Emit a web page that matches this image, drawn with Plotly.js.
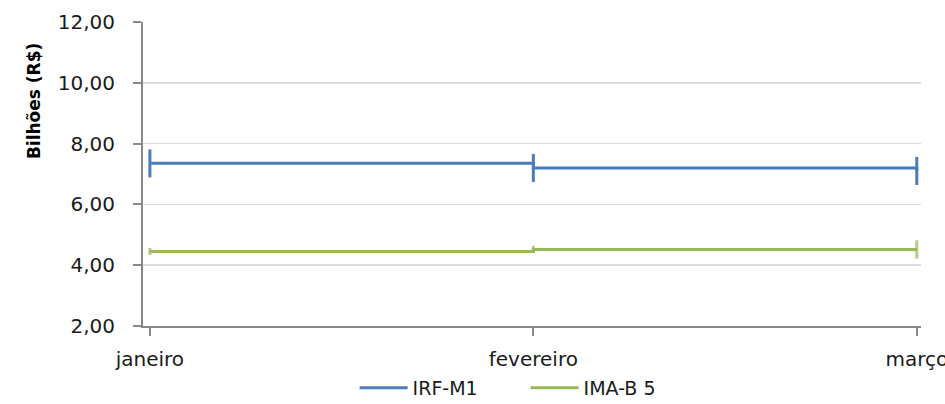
<!DOCTYPE html>
<html>
<head>
<meta charset="utf-8">
<script src="https://cdn.plot.ly/plotly-3.0.1.min.js"></script>
<style>html,body{margin:0;padding:0;background:#fff;}#chart{width:945px;height:404px;}</style>
</head>
<body>
<div id="chart"></div>
<script>
const months = ['janeiro', 'fevereiro', 'março'];
const irfM1 = [7.35, 7.20, 7.10];
const imaB5 = [4.45, 4.52, 4.52];
const yTicks = [2, 4, 6, 8, 10, 12];

const blue = '#4a7ebb';
const green = '#98b954';
const font = 'DejaVu Sans, Verdana, sans-serif';

const traces = [
  {x: months, y: irfM1, name: 'IRF-M1', type: 'scatter', mode: 'lines',
   line: {color: blue, width: 3, shape: 'hv'}},
  {x: months, y: imaB5, name: 'IMA-B 5', type: 'scatter', mode: 'lines',
   line: {color: green, width: 3, shape: 'hv'}},
  {x: months, y: irfM1, type: 'scatter', mode: 'markers', showlegend: false, hoverinfo: 'skip',
   marker: {symbol: 'line-ns', size: 20, line: {color: blue, width: 3}}},
  {x: months, y: imaB5, type: 'scatter', mode: 'markers', showlegend: false, hoverinfo: 'skip',
   marker: {symbol: 'line-ns', size: [5, 5, 13], line: {color: green, width: 3}}}
];

const layout = {
  width: 945, height: 404,
  margin: {l: 143, r: 24, t: 22, b: 78},
  paper_bgcolor: '#fff', plot_bgcolor: '#fff',
  separators: ',.',
  font: {family: font, color: '#1a1a1a', size: 18},
  xaxis: {
    type: 'category', range: [-0.018, 2.011],
    showline: true, linecolor: '#888', linewidth: 2,
    ticks: 'outside', ticklen: 8, tickcolor: '#888', tickwidth: 2,
    showgrid: false, zeroline: false,
    tickfont: {family: font, size: 20, color: '#1a1a1a'},
    ticklabelstandoff: 6
  },
  yaxis: {
    range: [2, 12], tickvals: yTicks, tickformat: '.2f',
    showline: true, linecolor: '#888', linewidth: 2,
    ticks: 'outside', ticklen: 8, tickcolor: '#888', tickwidth: 2,
    showgrid: true, gridcolor: '#dcdcdc', gridwidth: 1.5, zeroline: false,
    tickfont: {family: font, size: 20, color: '#1a1a1a'},
    ticklabelstandoff: 14
  },
  legend: {
    orientation: 'h', x: 0.272, xanchor: 'left',
    yref: 'container', y: 0.04, yanchor: 'middle',
    itemwidth: 48, entrywidth: 108, entrywidthmode: 'pixels',
    font: {family: font, size: 19, color: '#1a1a1a'}
  },
  annotations: [{
    text: '<b>Bilhões (R$)</b>', textangle: -90,
    xref: 'paper', yref: 'paper', x: -0.14, y: 0.74, xanchor: 'center', yanchor: 'middle',
    showarrow: false, font: {family: font, size: 17, color: '#000'}
  }],
  showlegend: true
};

Plotly.newPlot('chart', traces, layout, {displayModeBar: false, staticPlot: true});
</script>
</body>
</html>
